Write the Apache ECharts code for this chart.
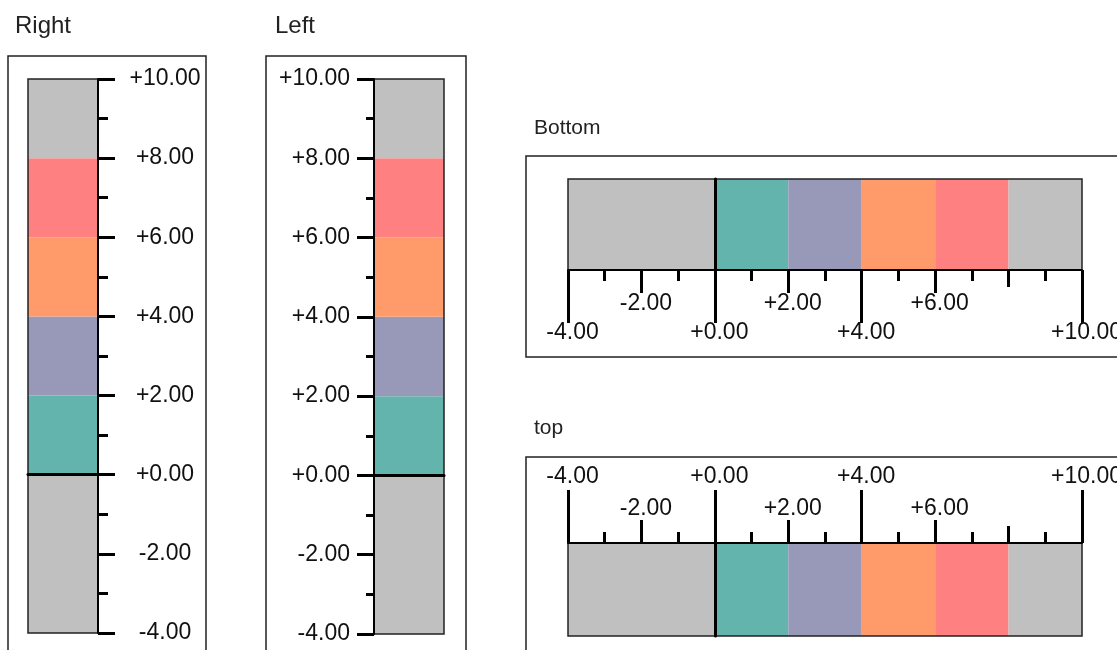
<!DOCTYPE html>
<html>
<head>
<meta charset="utf-8">
<title>Linear gauges</title>
<script src="https://cdn.jsdelivr.net/npm/echarts@6.0.0/dist/echarts.min.js"></script>
<style>
  html, body { margin: 0; padding: 0; background: #fff; }
  #chart { width: 1117px; height: 650px; }
</style>
</head>
<body>
<div id="chart"></div>
<script>
// scale shared by the four gauges
const scaleMin = -4;
const scaleMax = 10;
// colour bands, stacked from the low end up
const bandNames = ['under', 'band 1', 'band 2', 'band 3', 'band 4', 'over'];
const bandValues = [-4, 2, 2, 2, 2, 2];
const bandColors = ['#c0c0c0', '#62b4ac', '#9898b8', '#ff9b6b', '#ff8080', '#c0c0c0'];
// horizontal gauges: labels alternate between two rows
const longTicks = [-4, 0, 4, 10];
const midTicks = [-2, 2, 6];
const shortTicks = [8];
const minorTicks = [-3, -1, 1, 3, 5, 7, 9];
const titles = ['Right', 'Left', 'Bottom', 'top'];

const chart = echarts.init(document.getElementById('chart'));
const font = '"Liberation Sans", Arial, sans-serif';
const fmt = v => (v >= 0 ? '+' : '') + v.toFixed(2);

const grids = [
  {left: 28, top: 79, width: 70, height: 554},
  {left: 374, top: 79, width: 70, height: 555},
  {left: 568, top: 179, width: 514, height: 91},
  {left: 568, top: 543, width: 514, height: 93}
].map(g => Object.assign(g, {show: true, z: 5, borderColor: '#222', borderWidth: 1.5, outerBoundsMode: 'none', containLabel: false}));

function catAxis(gridIndex) {
  return {
    type: 'category', gridIndex: gridIndex, data: ['g'], z: 6,
    axisLine: {show: true, onZero: true, lineStyle: {color: '#000', width: 3}},
    axisTick: {show: false}, axisLabel: {show: false}, splitLine: {show: false}
  };
}

function vAxis(gridIndex, position, minorLen, margin, align) {
  return {
    type: 'value', gridIndex: gridIndex, position: position,
    min: scaleMin, max: scaleMax, interval: 2, z: 6,
    axisLine: {show: true, lineStyle: {color: '#000', width: 2}},
    axisTick: {show: true, length: 17, lineStyle: {color: '#000', width: 3}},
    minorTick: {show: true, splitNumber: 2, length: minorLen, lineStyle: {color: '#000', width: 3}},
    axisLabel: {margin: margin, align: align, formatter: fmt, color: '#111', fontSize: 23, fontFamily: font},
    splitLine: {show: false}, minorSplitLine: {show: false}
  };
}

function hAxes(gridIndex, position, farMargin, nearMargin) {
  const base = {type: 'value', gridIndex: gridIndex, position: position, min: scaleMin, max: scaleMax, z: 6, splitLine: {show: false}};
  const tick = (values, length) => ({show: true, customValues: values, length: length, lineStyle: {color: '#000', width: 3}});
  const label = (values, margin) => ({show: true, customValues: values, margin: margin, padding: [0, 0, 0, 9],
    formatter: fmt, color: '#111', fontSize: 23, fontFamily: font});
  return [
    Object.assign({}, base, {axisLine: {show: true, onZero: false, lineStyle: {color: '#000', width: 2}},
      axisTick: tick(longTicks, 53), axisLabel: label(longTicks, farMargin)}),
    Object.assign({}, base, {axisLine: {show: false}, axisTick: tick(midTicks, 23), axisLabel: label(midTicks, nearMargin)}),
    Object.assign({}, base, {axisLine: {show: false}, axisTick: tick(shortTicks, 17), axisLabel: {show: false}}),
    Object.assign({}, base, {axisLine: {show: false}, axisTick: tick(minorTicks, 11), axisLabel: {show: false}})
  ];
}

const xAxis = [catAxis(0), catAxis(1)]
  .concat(hAxes(2, 'bottom', 51, 22))
  .concat(hAxes(3, 'top', 55, 23));
const yAxis = [
  vAxis(0, 'right', 10, 67, 'center'),
  vAxis(1, 'left', 8, 24, 'right'),
  catAxis(2),
  catAxis(3)
];

// which x / y axis carries the bars of each gauge
const barAxes = [[0, 0], [1, 1], [2, 2], [6, 3]];
const series = [];
barAxes.forEach((ax, g) => {
  bandValues.forEach((v, i) => {
    series.push({
      type: 'bar', name: bandNames[i], stack: 'gauge' + g,
      xAxisIndex: ax[0], yAxisIndex: ax[1],
      barWidth: '100%', silent: true,
      itemStyle: {color: bandColors[i]},
      data: [v]
    });
  });
});

const titleStyle = size => ({fontSize: size, fontWeight: 'normal', color: '#222', fontFamily: font});

const option = {
  animation: false,
  backgroundColor: '#fff',
  title: [
    {text: titles[0], left: 10, top: 9, textStyle: titleStyle(24)},
    {text: titles[1], left: 270, top: 9, textStyle: titleStyle(24)},
    {text: titles[2], left: 529, top: 113, textStyle: titleStyle(21)},
    {text: titles[3], left: 529, top: 413, textStyle: titleStyle(21)}
  ],
  graphic: [
    {type: 'rect', shape: {x: 8, y: 56, width: 198, height: 700}, style: {fill: 'none', stroke: '#222', lineWidth: 1.5}, silent: true},
    {type: 'rect', shape: {x: 266, y: 56, width: 200, height: 700}, style: {fill: 'none', stroke: '#222', lineWidth: 1.5}, silent: true},
    {type: 'rect', shape: {x: 526, y: 156, width: 700, height: 201}, style: {fill: 'none', stroke: '#222', lineWidth: 1.5}, silent: true},
    {type: 'rect', shape: {x: 526, y: 457, width: 700, height: 300}, style: {fill: 'none', stroke: '#222', lineWidth: 1.5}, silent: true}
  ],
  grid: grids,
  xAxis: xAxis,
  yAxis: yAxis,
  series: series
};
chart.setOption(option);
</script>
</body>
</html>
